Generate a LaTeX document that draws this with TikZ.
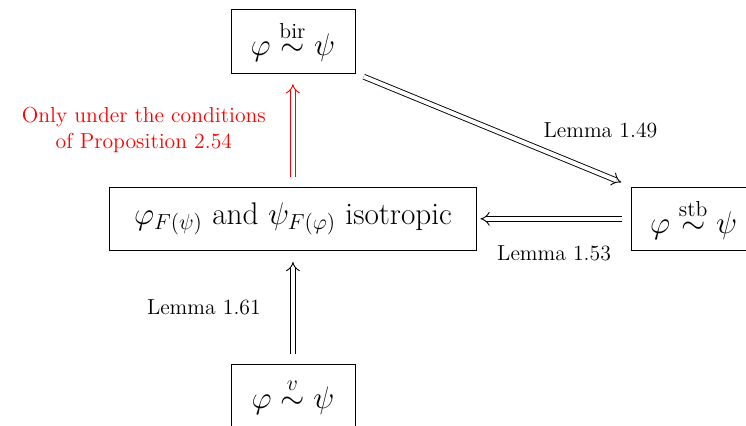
\documentclass[tikz,border=0pt]{standalone}
\usepackage{amsmath}
\usetikzlibrary{arrows.meta,positioning}

\begin{document}
\begin{tikzpicture}[
    node distance=2.2cm and 3cm,
    box/.style={draw, minimum height=1.24cm, minimum width=2.41cm, inner xsep=8pt, font=\LARGE},
    lbl/.style={font=\large, align=center},
    impl/.style={double, double distance=2.2pt, -{Implies}, line width=0.5pt}
]
\useasboundingbox (-5.69,-4.02) rectangle (8.80,4.25);

\node[box, minimum width=7.13cm] (iso) {$\varphi_{F(\psi)}$ and $\psi_{F(\varphi)}$ isotropic};
\node[box, above=of iso] (bir) {$\varphi \stackrel{\text{bir}}{\sim} \psi$};
\node[box, below=of iso] (veq) {$\varphi \stackrel{v}{\sim} \psi$};
\node[box, right=of iso] (stb) {$\varphi \stackrel{\text{stb}}{\sim} \psi$};

\draw[impl, red, shorten <=5pt, shorten >=6pt] (iso.north) -- (bir.south)
    node[lbl, midway, left=4mm, text=red] (cond) {Only under the conditions\\of Proposition 2.54};
\draw[impl, shorten <=5pt, shorten >=6pt] (bir.south east) -- (stb.north west)
    node[lbl, midway, right=8.5mm] (l49) {Lemma 1.49};
\draw[impl, shorten <=5pt, shorten >=2pt] (stb.west) -- (iso.east)
    node[lbl, midway, below=4mm] (l53) {Lemma 1.53};
\draw[impl, shorten <=6pt, shorten >=6pt] (veq.north) -- (iso.south)
    node[lbl, midway, left=5mm] (l61) {Lemma 1.61};
\end{tikzpicture}
\end{document}
